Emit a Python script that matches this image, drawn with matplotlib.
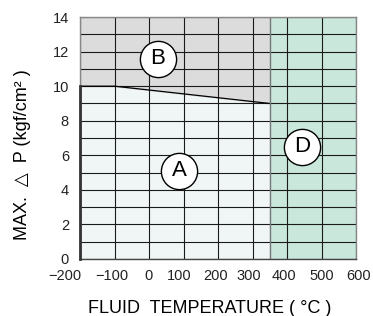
import matplotlib
matplotlib.use('Agg')
import matplotlib.pyplot as plt
import matplotlib.transforms as mtransforms
from matplotlib.ticker import MultipleLocator
import numpy as np

plt.rcParams['font.family'] = ['Liberation Sans', 'DejaVu Sans']

# boundary between region A and B (temperature, max dP)
edge_t = [-200, -100, 350]
edge_p = [10, 10, 9]
t_limit = 350
xticks = [-200, -100, 0, 100, 200, 300, 400, 500, 600]
yticks = [0, 2, 4, 6, 8, 10, 12, 14]
# region labels: (name, temperature, pressure)
regions = [('A', 87, 5.1), ('B', 26, 11.6), ('D', 444, 6.5)]

fig = plt.figure(figsize=(3.73, 3.16), dpi=100)
ax = fig.add_axes([0.2145, 0.1804, 0.74, 0.7656])

ax.fill_between(edge_t, 0, edge_p, color='#f0f6f6', zorder=0)
ax.fill_between(edge_t, edge_p, 14, color='#dcdcdc', zorder=0)
ax.axvspan(t_limit, 600, color='#c9e7db', zorder=0)
ax.plot(edge_t, edge_p, color='black', lw=0.9, zorder=2)

ax.set_xlim(-200, 600)
ax.set_ylim(0, 14)
ax.set_xticks(xticks)
ax.set_yticks(yticks)
ax.yaxis.set_minor_locator(MultipleLocator(1))
ax.grid(True, which='both', color='#1a1a1a', lw=0.8, zorder=1)
ax.set_axisbelow(True)
ax.axvline(t_limit, color='#777777', lw=1.0, zorder=2)
ax.tick_params(which='both', length=0, labelsize=10.5, colors='#222222')
ax.tick_params(axis='y', pad=8)
ax.tick_params(axis='x', pad=7)

# the x labels in the original sit a little left of their grid lines
shifts = [-15, -3, -1, -4, -2, -4, -3, 0, 3]
for lab, dx in zip(ax.get_xticklabels(), shifts):
    lab.set_transform(lab.get_transform() + mtransforms.ScaledTranslation(dx / 100, 0, fig.dpi_scale_trans))

for s in ax.spines.values():
    s.set_color('#888888')
    s.set_linewidth(1.0)
ax.spines['bottom'].set_color('#444444')
ax.plot([-200, -200], [0, 10], color='#333333', lw=2.0, clip_on=False, zorder=3)

for name, t, p in regions:
    ax.scatter([t], [p], s=680, facecolor='white', edgecolor='black', lw=1.0, zorder=4)
    ax.text(t, p, name, ha='center', va='center', fontsize=16, zorder=5)

ax.set_xlabel('FLUID  TEMPERATURE ( °C )', fontsize=13)
ax.xaxis.set_label_coords(0.471, -0.168)
ax.set_ylabel('MAX.  △  P (kgf/cm² )', fontsize=13)
ax.yaxis.set_label_coords(-0.178, 0.43)

fig.savefig('out.png', dpi=100)
